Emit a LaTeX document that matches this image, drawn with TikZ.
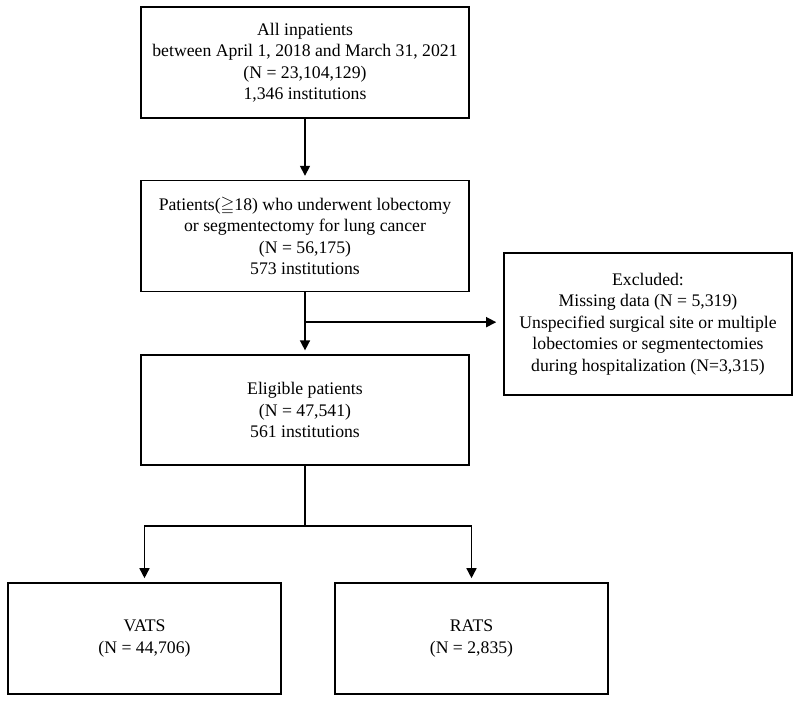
\documentclass[tikz,border=0pt]{standalone}
\usepackage{amssymb}
\usepackage{fontspec}
\setmainfont{Liberation Serif}
\usetikzlibrary{arrows.meta,positioning}

\begin{document}
\begin{tikzpicture}[
  x=1pt, y=-1pt,
  node distance=61pt and 35pt,
  box/.style={draw, line width=1.6pt, align=center, minimum width=328pt, minimum height=111pt, inner sep=0pt, font=\fontsize{17.7}{21.5}\selectfont},
  exbox/.style={box, minimum width=288pt, minimum height=142pt},
  armbox/.style={box, minimum width=273pt},
  arr/.style={line width=1.5pt, -{Triangle[length=10pt,width=10pt]}, shorten >=4pt}
]
\useasboundingbox (0,0) rectangle (800,704);
\node[box] (all) at (305,62.5) {All inpatients\\between April 1, 2018 and March 31, 2021\\(N = 23,104,129)\\1,346 institutions};
\node[box, below=of all] (surg) {Patients($\geqq$18) who underwent lobectomy\\or segmentectomy for lung cancer\\(N = 56,175)\\573 institutions};
\node[box, below=62pt of surg, minimum height=110pt] (elig) {Eligible patients\\(N = 47,541)\\561 institutions};
\node[exbox] (excl) at (648,324) {Excluded:\\Missing data (N = 5,319)\\Unspecified surgical site or multiple\\lobectomies or segmentectomies\\during hospitalization (N=3,315)};
\node[armbox] (vats) at (144.5,638.5) {VATS\\(N = 44,706)};
\node[armbox] (rats) at (471.5,638.5) {RATS\\(N = 2,835)};
\draw[arr] (all) -- (surg);
\path (surg.south) -- (elig.north) coordinate[pos=0.48] (branch);
\draw[arr] (surg) -- (elig);
\draw[arr, shorten >=7pt] (branch) -- (branch -| excl.west);
\draw[line width=1.5pt] (elig.south) -- ++(0,60) coordinate (fork);
\draw[arr] (fork) -| (vats.north);
\draw[arr] (fork) -| (rats.north);
\end{tikzpicture}
\end{document}
